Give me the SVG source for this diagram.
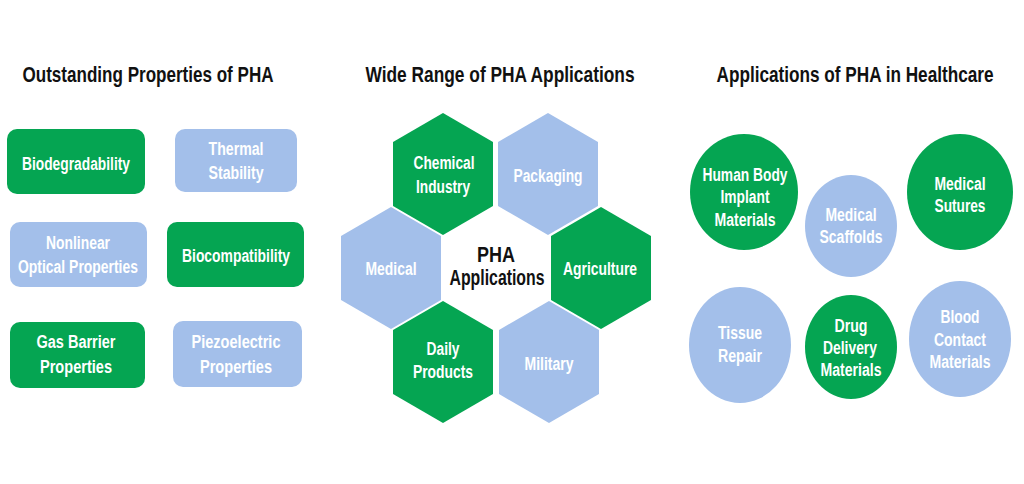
<svg xmlns="http://www.w3.org/2000/svg" width="1024" height="484" viewBox="0 0 1024 484">
<defs>
<style>
text{font-family:"Liberation Sans",Arial,sans-serif;font-weight:bold;text-anchor:middle}
.t{font-size:22.5px;fill:#111}
.l{font-size:18px;fill:#fff}
.c{font-size:21.5px;fill:#111}
.g{fill:#05a552}
.b{fill:#a3bfea}
</style>
<polygon id="hex" points="0,-61 50,-32 50,32 0,61 -50,32 -50,-32"/>
</defs>
<rect width="1024" height="484" fill="#fff"/>
<g id="titles">
<text class="t" transform="translate(148,82) scale(0.75,1)" x="0" y="0" textLength="334.7" lengthAdjust="spacingAndGlyphs">Outstanding Properties of PHA</text>
<text class="t" transform="translate(500,82) scale(0.75,1)" x="0" y="0" textLength="358.7" lengthAdjust="spacingAndGlyphs">Wide Range of PHA Applications</text>
<text class="t" transform="translate(855,82) scale(0.75,1)" x="0" y="0" textLength="369.3" lengthAdjust="spacingAndGlyphs">Applications of PHA in Healthcare</text>
</g>
<g id="connectors"></g>
<g id="biodegradability"><rect class="g" x="7" y="129" width="138" height="65" rx="10"/><text class="l" x="76" y="170" textLength="108" lengthAdjust="spacingAndGlyphs">Biodegradability</text></g>
<g id="thermal"><rect class="b" x="175" y="129" width="122" height="63" rx="10"/><text class="l" x="236" y="155" textLength="55" lengthAdjust="spacingAndGlyphs">Thermal</text><text class="l" x="236" y="179" textLength="55" lengthAdjust="spacingAndGlyphs">Stability</text></g>
<g id="nonlinear"><rect class="b" x="10" y="222" width="137" height="65" rx="10"/><text class="l" x="78" y="249" textLength="64" lengthAdjust="spacingAndGlyphs">Nonlinear</text><text class="l" x="78" y="273" textLength="120" lengthAdjust="spacingAndGlyphs">Optical Properties</text></g>
<g id="biocompatibility"><rect class="g" x="167" y="222" width="137" height="65" rx="10"/><text class="l" x="236" y="262" textLength="108" lengthAdjust="spacingAndGlyphs">Biocompatibility</text></g>
<g id="gasbarrier"><rect class="g" x="10" y="322" width="135" height="66" rx="10"/><text class="l" x="76" y="348" textLength="79" lengthAdjust="spacingAndGlyphs">Gas Barrier</text><text class="l" x="76" y="373" textLength="72" lengthAdjust="spacingAndGlyphs">Properties</text></g>
<g id="piezoelectric"><rect class="b" x="173" y="321" width="129" height="66" rx="10"/><text class="l" x="236" y="348" textLength="89" lengthAdjust="spacingAndGlyphs">Piezoelectric</text><text class="l" x="236" y="373" textLength="72" lengthAdjust="spacingAndGlyphs">Properties</text></g>
<g id="chemical"><use href="#hex" class="g" x="443" y="174"/><text class="l" x="444" y="169" textLength="61" lengthAdjust="spacingAndGlyphs">Chemical</text><text class="l" x="443" y="193" textLength="54" lengthAdjust="spacingAndGlyphs">Industry</text></g>
<g id="packaging"><use href="#hex" class="b" x="548" y="174"/><text class="l" x="548" y="182" textLength="69" lengthAdjust="spacingAndGlyphs">Packaging</text></g>
<g id="medical"><use href="#hex" class="b" x="391" y="268"/><text class="l" x="391" y="275" textLength="51" lengthAdjust="spacingAndGlyphs">Medical</text></g>
<g id="agriculture"><use href="#hex" class="g" x="601" y="268"/><text class="l" x="600" y="275" textLength="74" lengthAdjust="spacingAndGlyphs">Agriculture</text></g>
<g id="daily"><use href="#hex" class="g" x="443" y="362"/><text class="l" x="443" y="355" textLength="33" lengthAdjust="spacingAndGlyphs">Daily</text><text class="l" x="443" y="378" textLength="60" lengthAdjust="spacingAndGlyphs">Products</text></g>
<g id="military"><use href="#hex" class="b" x="549" y="362"/><text class="l" x="549" y="370" textLength="49" lengthAdjust="spacingAndGlyphs">Military</text></g>
<g id="center"><text class="c" transform="translate(496,262) scale(0.75,1)" x="0" y="0" textLength="50.7" lengthAdjust="spacingAndGlyphs">PHA</text><text class="c" transform="translate(497,285) scale(0.75,1)" x="0" y="0" textLength="126.7" lengthAdjust="spacingAndGlyphs">Applications</text></g>
<g id="implant"><ellipse class="g" cx="744" cy="192" rx="54" ry="58"/><text class="l" x="745" y="181" textLength="85" lengthAdjust="spacingAndGlyphs">Human Body</text><text class="l" x="745" y="203" textLength="49" lengthAdjust="spacingAndGlyphs">Implant</text><text class="l" x="745" y="226" textLength="61" lengthAdjust="spacingAndGlyphs">Materials</text></g>
<g id="scaffolds"><ellipse class="b" cx="851" cy="226" rx="46" ry="51"/><text class="l" x="851" y="221" textLength="51" lengthAdjust="spacingAndGlyphs">Medical</text><text class="l" x="851" y="243" textLength="63" lengthAdjust="spacingAndGlyphs">Scaffolds</text></g>
<g id="sutures"><ellipse class="g" cx="960" cy="192" rx="53" ry="58"/><text class="l" x="960" y="190" textLength="51" lengthAdjust="spacingAndGlyphs">Medical</text><text class="l" x="960" y="212" textLength="51" lengthAdjust="spacingAndGlyphs">Sutures</text></g>
<g id="tissue"><ellipse class="b" cx="740" cy="345" rx="51" ry="58"/><text class="l" x="740" y="339" textLength="44" lengthAdjust="spacingAndGlyphs">Tissue</text><text class="l" x="740" y="362" textLength="44" lengthAdjust="spacingAndGlyphs">Repair</text></g>
<g id="drug"><ellipse class="g" cx="851" cy="347" rx="46" ry="52"/><text class="l" x="851" y="332" textLength="33" lengthAdjust="spacingAndGlyphs">Drug</text><text class="l" x="850" y="354" textLength="54" lengthAdjust="spacingAndGlyphs">Delivery</text><text class="l" x="851" y="376" textLength="61" lengthAdjust="spacingAndGlyphs">Materials</text></g>
<g id="blood"><ellipse class="b" cx="960" cy="339" rx="51" ry="58"/><text class="l" x="960" y="323" textLength="39" lengthAdjust="spacingAndGlyphs">Blood</text><text class="l" x="960" y="346" textLength="52" lengthAdjust="spacingAndGlyphs">Contact</text><text class="l" x="960" y="368" textLength="61" lengthAdjust="spacingAndGlyphs">Materials</text></g>
</svg>
